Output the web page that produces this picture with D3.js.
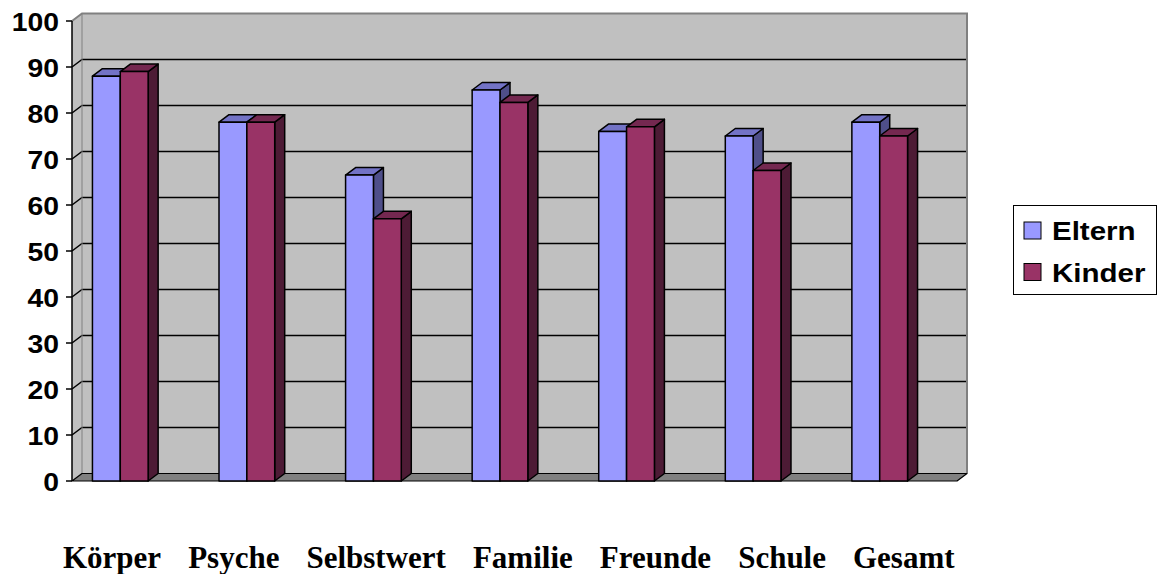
<!DOCTYPE html>
<html>
<head>
<meta charset="utf-8">
<script src="https://cdn.jsdelivr.net/npm/d3@7"></script>
<style>
  html, body { margin: 0; padding: 0; background: #fff; }
  svg { display: block; }
</style>
</head>
<body>
<svg id="chart" width="1161" height="574"></svg>
<script>
// Lebensqualität: Einschätzung der Eltern und der Kinder je Bereich
const categories = ["Körper", "Psyche", "Selbstwert", "Familie", "Freunde", "Schule", "Gesamt"];
const seriesNames = ["Eltern", "Kinder"];
const elternValues = [88, 78, 66.5, 85, 76, 75, 78];
const kinderValues = [89, 78, 57, 82.3, 77, 67.5, 75];
const yTicks = [0, 10, 20, 30, 40, 50, 60, 70, 80, 90, 100];

const colors = {
  Eltern: { front: "#9999ff", top: "#7373c6", side: "#4f4f8a" },
  Kinder: { front: "#993366", top: "#742850", side: "#4d1b35" }
};

const svg = d3.select("#chart");

// oblique depth offset for the 3D effect
const DX = 10, DY = -7.5;

const plot = { left: 72, right: 957, top: 21, bottom: 481 };

const y = d3.scaleLinear().domain([0, 100]).range([plot.bottom, plot.top]);
const x0 = d3.scaleBand().domain(categories).range([57, 943]).padding(0);
const groupW = x0.bandwidth() * 0.44;
const x1 = d3.scaleBand().domain(seriesNames).range([0, groupW]).padding(0);

const data = categories.map((c, i) => ({
  cat: c,
  values: [
    { key: "Eltern", value: elternValues[i] },
    { key: "Kinder", value: kinderValues[i] }
  ]
}));

const wallFill = "#c0c0c0";
const wallEdge = "#808080";

// back wall
const bx0 = plot.left + DX, bx1 = plot.right + DX;
svg.append("rect")
  .attr("x", bx0).attr("y", y(100) + DY)
  .attr("width", bx1 - bx0).attr("height", y(0) - y(100))
  .attr("fill", wallFill);

// left side wall
svg.append("path")
  .attr("d", `M${plot.left},${y(100)} L${bx0},${y(100) + DY} L${bx0},${y(0) + DY} L${plot.left},${y(0)} Z`)
  .attr("fill", wallFill);

// gridlines on side wall and back wall
const grid = yTicks.filter(v => v > 0 && v < 100);
svg.append("g").selectAll("path").data(grid).join("path")
  .attr("d", v => `M${plot.left},${y(v)} L${bx0},${y(v) + DY} L${bx1},${y(v) + DY}`)
  .attr("fill", "none").attr("stroke", "#000").attr("stroke-width", 1.5);

// wall outline
svg.append("path")
  .attr("d", `M${plot.left},${y(100)} L${bx0},${y(100) + DY} L${bx1},${y(100) + DY} L${bx1},${y(0) + DY}`)
  .attr("fill", "none").attr("stroke", wallEdge).attr("stroke-width", 2);
svg.append("line")
  .attr("x1", bx0).attr("x2", bx0).attr("y1", y(100) + DY).attr("y2", y(0) + DY)
  .attr("stroke", wallEdge).attr("stroke-width", 1);

// floor
svg.append("path")
  .attr("d", `M${plot.left},${y(0)} L${bx0},${y(0) + DY} L${bx1},${y(0) + DY} L${plot.right},${y(0)} Z`)
  .attr("fill", "#808080").attr("stroke", "#000").attr("stroke-width", 1.2)
  .attr("stroke-linejoin", "round");

// value axis
svg.append("line")
  .attr("x1", plot.left).attr("x2", plot.left)
  .attr("y1", y(100)).attr("y2", y(0))
  .attr("stroke", "#000").attr("stroke-width", 1.5);
svg.append("g").selectAll("line").data(yTicks).join("line")
  .attr("x1", plot.left - 6).attr("x2", plot.left)
  .attr("y1", v => y(v)).attr("y2", v => y(v))
  .attr("stroke", "#000").attr("stroke-width", 1.5);
svg.append("g").selectAll("text").data(yTicks).join("text")
  .attr("transform", v => `translate(59,${y(v) + 10}) scale(1.09,1)`)
  .attr("text-anchor", "end")
  .attr("font-family", "Liberation Sans, Arial, sans-serif")
  .attr("font-weight", "bold").attr("font-size", 26)
  .text(v => v);

// 3D bars
const bars = svg.append("g");
data.forEach(d => {
  d.values.forEach(s => {
    const xl = x0(d.cat) + (x0.bandwidth() - groupW) / 2 + x1(s.key);
    const xr = xl + x1.bandwidth();
    const yt = y(s.value), yb = y(0);
    const c = colors[s.key];
    const g = bars.append("g")
      .attr("stroke", "#000").attr("stroke-width", 1.5).attr("stroke-linejoin", "round");
    // side face
    g.append("path")
      .attr("d", `M${xr},${yt} L${xr + DX},${yt + DY} L${xr + DX},${yb + DY} L${xr},${yb} Z`)
      .attr("fill", c.side);
    // top face
    g.append("path")
      .attr("d", `M${xl},${yt} L${xl + DX},${yt + DY} L${xr + DX},${yt + DY} L${xr},${yt} Z`)
      .attr("fill", c.top);
    // front face
    g.append("rect")
      .attr("x", xl).attr("y", yt)
      .attr("width", xr - xl).attr("height", yb - yt)
      .attr("fill", c.front);
  });
});

// category labels, set in one row with even gaps
const catG = svg.append("g")
  .attr("font-family", "Liberation Serif, Times New Roman, serif")
  .attr("font-weight", "bold").attr("font-size", 31);
let cx = 63;
categories.forEach(c => {
  const t = catG.append("text").attr("x", cx).attr("y", 568).text(c);
  cx += t.node().getComputedTextLength() + 27;
});

// legend
const legend = svg.append("g");
legend.append("rect")
  .attr("x", 1013.5).attr("y", 205.5).attr("width", 143).attr("height", 89)
  .attr("fill", "#fff").attr("stroke", "#000").attr("stroke-width", 1);
seriesNames.forEach((name, i) => {
  const ly = 222 + i * 41.5;
  legend.append("rect")
    .attr("x", 1024).attr("y", ly).attr("width", 17).attr("height", 17)
    .attr("fill", colors[name].front).attr("stroke", "#000").attr("stroke-width", 1);
  legend.append("text")
    .attr("transform", `translate(1052,${ly + 18}) scale(1.18,1)`)
    .attr("font-family", "Liberation Sans, Arial, sans-serif")
    .attr("font-weight", "bold").attr("font-size", 25)
    .text(name);
});
</script>
</body>
</html>
